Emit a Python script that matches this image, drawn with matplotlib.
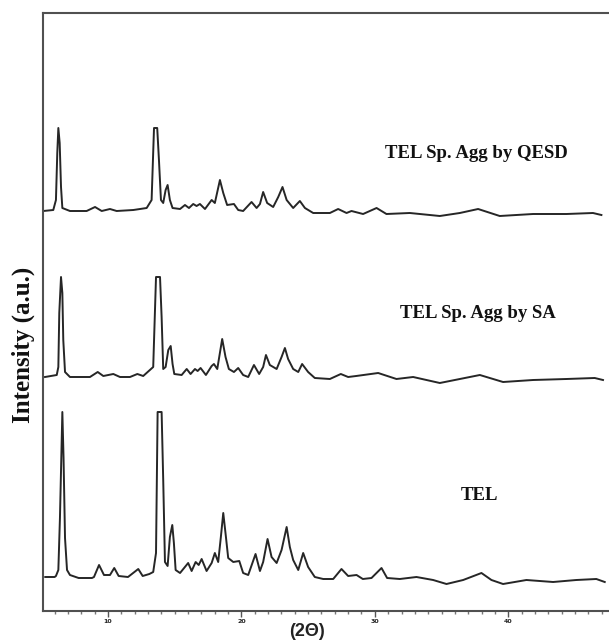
import matplotlib
matplotlib.use("Agg")
import matplotlib.pyplot as plt
from matplotlib.ticker import MultipleLocator

# ---- data: 2-theta (deg) and intensity (a.u.) ----
tel_2theta = [5.3, 6.0, 6.1, 6.28, 6.4, 6.58, 6.67, 6.78, 6.93, 7.15, 7.8, 8.8, 8.95, 9.33, 9.7,
              10.15, 10.47, 10.8, 11.5, 12.27, 12.6, 13.1, 13.39, 13.6, 13.72, 14.02, 14.14, 14.27,
              14.47, 14.64, 14.82, 14.94, 15.07, 15.4, 16.01, 16.27, 16.57, 16.8, 17.02, 17.39,
              17.77, 18.01, 18.26, 18.46, 18.64, 18.84, 19.01, 19.39, 19.84, 20.13, 20.51, 21.06,
              21.39, 21.63, 21.96, 22.26, 22.64, 23.01, 23.39, 23.63, 23.88, 24.26, 24.63, 25.0,
              25.5, 26.13, 26.88, 27.5, 28.0, 28.63, 29.1, 29.75, 30.5, 30.92, 31.87, 33.12,
              34.37, 35.37, 36.62, 37.99, 38.74, 39.61, 41.36, 43.36, 45.1, 46.6, 47.23]
tel_int = [1, 1, 2, 8, 60, 166, 120, 40, 8, 3, 0, 0, 1, 13, 3,
           3, 10, 2, 1, 9, 2, 4, 6, 25, 166, 166, 98, 16,
           12, 41, 53, 35, 8, 5, 15, 7, 16, 13, 19, 7,
           15, 25, 16, 41, 65, 41, 20, 16, 17, 5, 3, 24,
           7, 16, 39, 21, 15, 28, 51, 31, 18, 8, 25, 11,
           1, -1, -1, 9, 2, 3, -1, 0, 10, 0, -1, 1,
           -2, -6, -2, 5, -2, -6, -2, -4, -2, -1, -4]

sa_2theta = [5.28, 6.16, 6.28, 6.35, 6.48, 6.58, 6.65, 6.78, 7.15, 8.65, 9.23, 9.65, 10.4, 10.9,
             11.65, 12.2, 12.64, 13.39, 13.6, 13.9, 14.02, 14.14, 14.32, 14.52, 14.7, 14.84, 14.97,
             15.52, 15.9, 16.19, 16.52, 16.72, 16.94, 17.34, 17.77, 17.94, 18.19, 18.56, 18.81,
             19.06, 19.44, 19.76, 20.13, 20.51, 20.94, 21.33, 21.63, 21.84, 22.13, 22.64, 23.01,
             23.26, 23.5, 23.88, 24.26, 24.55, 25.0, 25.5, 26.63, 27.45, 28.0, 28.6, 30.25, 31.62,
             32.87, 34.87, 36.37, 37.87, 39.61, 41.86, 44.36, 46.48, 47.1]
sa_int = [0, 2, 10, 64, 100, 84, 37, 5, 0, 0, 5, 1, 3, 0,
          0, 3, 1, 10, 100, 100, 60, 8, 10, 27, 31, 13, 3,
          2, 8, 3, 8, 6, 9, 2, 11, 13, 8, 38, 20,
          8, 5, 9, 2, 0, 12, 3, 10, 22, 12, 8, 20,
          29, 18, 8, 5, 13, 5, -1, -2, 3, 0, 1, 4, -2,
          0, -6, -2, 2, -5, -3, -2, -1, -3]

qesd_2theta = [5.15, 5.9, 6.1, 6.2, 6.28, 6.38, 6.48, 6.58, 7.15, 8.4, 9.03, 9.53, 10.15, 10.65,
               11.9, 12.9, 13.27, 13.45, 13.69, 13.82, 13.97, 14.14, 14.32, 14.47, 14.64, 14.84,
               15.4, 15.77, 16.07, 16.39, 16.64, 16.89, 17.27, 17.77, 18.01, 18.39, 18.64, 18.93,
               19.44, 19.76, 20.13, 20.76, 21.14, 21.39, 21.63, 21.93, 22.38, 22.76, 23.08, 23.39,
               23.88, 24.38, 24.76, 25.38, 26.63, 27.25, 27.88, 28.25, 29.12, 30.13, 30.87, 32.62,
               34.87, 36.37, 37.74, 39.36, 41.86, 44.36, 46.35, 46.98]
qesd_int = [0, 1, 11, 58, 83, 68, 24, 3, 0, 0, 4, 0, 2, 0,
            1, 3, 11, 83, 83, 51, 11, 8, 21, 26, 11, 3,
            2, 6, 3, 7, 5, 7, 2, 11, 8, 31, 18, 6,
            7, 1, 0, 9, 3, 7, 19, 8, 4, 14, 24, 11,
            3, 10, 3, -2, -2, 2, -2, 0, -3, 3, -3, -2,
            -5, -2, 2, -5, -3, -3, -2, -4]

series_names = ["TEL", "TEL Sp. Agg by SA", "TEL Sp. Agg by QESD"]
x_ticks = [10, 20, 30, 40]

# ---- layout / style ----
offsets = [33, 234, 400]
label_pos = [(37.87, 115), (37.7, 298), (37.64, 457)]

fig = plt.figure(figsize=(6.09, 6.40), dpi=100)
ax = fig.add_axes([43 / 609, 1 - 611 / 640, 1 - 43 / 609 + 0.01, (611 - 13) / 640])

line_col = "#262626"
for xs, ys, off in zip([tel_2theta, sa_2theta, qesd_2theta],
                       [tel_int, sa_int, qesd_int], offsets):
    ax.plot(xs, [v + off for v in ys], color=line_col, lw=1.4, solid_joinstyle="round")

for name, (tx, ty) in zip(series_names, label_pos):
    ax.text(tx, ty, name, ha="center", va="center", fontsize=13.5,
            fontweight="bold", family="Liberation Serif", color="#111111")

ax.set_xlim(5.13, 47.55 + 0.01 * 609 / 13.35)
ax.set_ylim(0, 598)

ax.spines["right"].set_visible(False)
for s in ["left", "top", "bottom"]:
    ax.spines[s].set_color("#505050")
    ax.spines[s].set_linewidth(1.5)

ax.set_yticks([])
ax.xaxis.set_minor_locator(MultipleLocator(1))
ax.set_xticks(x_ticks)
ax.set_xticklabels([str(t) for t in x_ticks], fontsize=4.5, fontweight="bold")
ax.tick_params(axis="x", which="major", direction="out", length=4, width=1, colors="#555555",
               labelcolor="#222222", pad=2)
ax.tick_params(axis="x", which="minor", direction="out", length=2, width=1, colors="#777777")

fig.text(307 / 609, 1 - 631 / 640, "(2Θ)", ha="center", va="center", fontsize=13,
         fontweight="bold", family="Liberation Sans", color="#222222")
fig.text(23 / 609, 1 - 345 / 640, "Intensity (a.u.)", rotation=90, ha="center", va="center",
         fontsize=18, fontweight="bold", family="Liberation Serif", color="#111111")

fig.savefig("out.png", dpi=100)
